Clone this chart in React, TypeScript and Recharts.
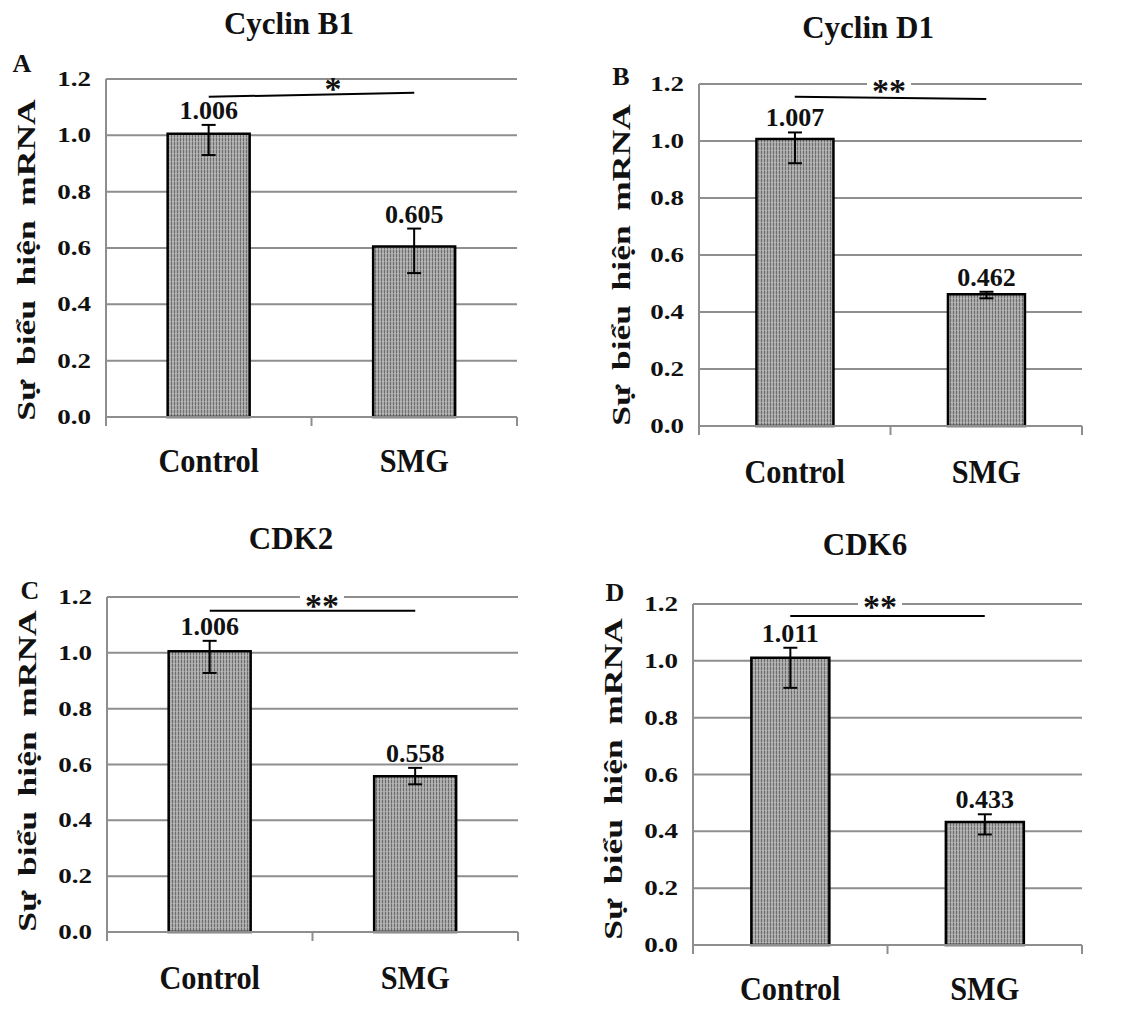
import React from 'react';
import {
  BarChart,
  Bar,
  XAxis,
  YAxis,
  CartesianGrid,
  ErrorBar,
  LabelList,
  ReferenceLine
} from 'recharts';

const categories = ['Control', 'SMG'];
const yTicks = [0, 0.2, 0.4, 0.6, 0.8, 1.0, 1.2];
const yLabel = 'Sự biểu hiện mRNA';

const cyclinB1 = [1.006, 0.605];
const cyclinB1Err = [[0.076, 0.031], [0.094, 0.064]]; // [down, up]
const cyclinD1 = [1.007, 0.462];
const cyclinD1Err = [[0.085, 0.023], [0.014, 0.009]];
const cdk2 = [1.006, 0.558];
const cdk2Err = [[0.078, 0.037], [0.029, 0.030]];
const cdk6 = [1.011, 0.433];
const cdk6Err = [[0.106, 0.035], [0.044, 0.027]];

const sigB1 = [1.137, 1.151];
const sigD1 = [1.155, 1.147];
const sigCdk2 = [1.151, 1.151];
const sigCdk6 = [1.158, 1.158];

const serif = '"Liberation Serif", "Times New Roman", serif';
const gridGray = '#8e8e8e';
const svgText = { fontFamily: serif, fontWeight: 700 };

// plot box (L, R, T = 1.2 line, B = 0 line) and overlay spots for each panel
const panels = [
  { id: 'a', title: 'Cyclin B1', letter: 'A', vals: cyclinB1, errs: cyclinB1Err, sig: sigB1, stars: '*', box: false,
    L: 106, R: 517, T: 79, B: 417, titleXY: [289, 23], letterXY: [22, 64], ylabXY: [26, 260], starXY: [333, 84], catOff: 44 },
  { id: 'b', title: 'Cyclin D1', letter: 'B', vals: cyclinD1, errs: cyclinD1Err, sig: sigD1, stars: '**', box: true,
    L: 699, R: 1082, T: 84, B: 426, titleXY: [868, 27], letterXY: [621, 77], ylabXY: [621, 265], starXY: [889, 86], catOff: 46 },
  { id: 'c', title: 'CDK2', letter: 'C', vals: cdk2, errs: cdk2Err, sig: sigCdk2, stars: '**', box: true,
    L: 107, R: 518, T: 597, B: 932, titleXY: [291, 538], letterXY: [30, 591], ylabXY: [27, 771], starXY: [322, 601], catOff: 46 },
  { id: 'd', title: 'CDK6', letter: 'D', vals: cdk6, errs: cdk6Err, sig: sigCdk6, stars: '**', box: true,
    L: 693, R: 1082, T: 604, B: 945, titleXY: [865, 544], letterXY: [615, 593], ylabXY: [613, 779], starXY: [880, 602], catOff: 44 },
];

const YTick = ({ x, y, payload }: any) => (
  <g transform={`translate(${x},${y})`}>
    <text textAnchor="end" dy={7} transform="scale(1.35,1)" style={svgText} fontSize={20} fill="#111">
      {Number(payload.value).toFixed(1)}
    </text>
  </g>
);

const makeXTick = (band: number, off: number) => ({ x, y, payload, index }: any) => (
  <g>
    <line x1={x - band / 2} x2={x - band / 2} y1={y} y2={y + 9} stroke={gridGray} strokeWidth={2} />
    {index === categories.length - 1 && (
      <line x1={x + band / 2} x2={x + band / 2} y1={y} y2={y + 9} stroke={gridGray} strokeWidth={2} />
    )}
    <g transform={`translate(${x},${y + off + 11})`}>
      <text textAnchor="middle" transform="scale(0.92,1.05)" style={svgText} fontSize={33} fill="#111">
        {payload.value}
      </text>
    </g>
  </g>
);

const makeValueLabel = (vals: number[], errs: number[][]) => (props: any) => {
  const vb = props.viewBox || props;
  const x = vb.x ?? props.x;
  const y = vb.y ?? props.y;
  const width = vb.width ?? props.width;
  const height = vb.height ?? props.height;
  const i = props.index ?? 0;
  const pxPerUnit = height / vals[i];
  const errTop = y - errs[i][1] * pxPerUnit;
  return (
    <text x={x + width / 2} y={errTop - 6} textAnchor="middle" style={svgText} fontSize={26} fill="#111">
      {vals[i].toFixed(3)}
    </text>
  );
};

const Panel = ({ p }: any) => {
  const width = p.R - p.L + 80;
  const height = p.B - p.T + 80;
  const band = (p.R - p.L) / categories.length;
  const data = categories.map((c, i) => ({ name: c, value: p.vals[i], err: p.errs[i] }));
  return (
    <>
      <div style={{ position: 'absolute', left: p.L - 70, top: p.T - 10 }}>
        <BarChart width={width} height={height} data={data} barCategoryGap="30%"
          margin={{ top: 10, right: 10, left: 10, bottom: 10 }}>
          <defs>
            <pattern id={`tex-${p.id}`} width={3} height={4} patternUnits="userSpaceOnUse">
              <rect width={3} height={4} fill="#aaaaaa" />
              <rect width={1} height={4} fill="#6c6c6c" />
              <rect width={3} height={1} fill="#c6c6c6" opacity={0.45} />
            </pattern>
          </defs>
          <CartesianGrid vertical={false} stroke={gridGray} strokeWidth={2} />
          <XAxis dataKey="name" height={60} tickLine={false} tickSize={0} tickMargin={0}
            axisLine={{ stroke: gridGray, strokeWidth: 2 }} tick={makeXTick(band, p.catOff)} interval={0} />
          <YAxis type="number" domain={[0, 1.2]} ticks={yTicks} width={60} tickLine={false} tickSize={0} tickMargin={15}
            axisLine={{ stroke: gridGray, strokeWidth: 2 }} tick={<YTick />} interval={0} />
          <Bar dataKey="value" fill={`url(#tex-${p.id})`} stroke="#000" strokeWidth={2.5} isAnimationActive={false}>
            <ErrorBar dataKey="err" direction="y" width={7} stroke="#000" strokeWidth={2} />
            <LabelList dataKey="value" content={makeValueLabel(p.vals, p.errs)} />
          </Bar>
          <ReferenceLine segment={[{ x: categories[0], y: p.sig[0] }, { x: categories[1], y: p.sig[1] }]}
            stroke="#000" strokeWidth={2} ifOverflow="visible" />
        </BarChart>
      </div>
      <div style={{ position: 'absolute', left: p.titleXY[0], top: p.titleXY[1], transform: 'translate(-50%,-50%)',
        fontFamily: serif, fontWeight: 'bold', fontSize: 31, lineHeight: 1, whiteSpace: 'nowrap', color: '#111' }}>
        {p.title}
      </div>
      <div style={{ position: 'absolute', left: p.letterXY[0], top: p.letterXY[1], transform: 'translate(-50%,-50%)',
        fontFamily: serif, fontWeight: 'bold', fontSize: 26, lineHeight: 1, color: '#111' }}>
        {p.letter}
      </div>
      <div style={{ position: 'absolute', left: p.ylabXY[0], top: p.ylabXY[1],
        transform: 'translate(-50%,-50%) rotate(-90deg) scale(1.42,1)', fontFamily: serif, fontWeight: 'bold',
        fontSize: 25, lineHeight: 1, whiteSpace: 'nowrap', wordSpacing: 4, color: '#111' }}>
        {yLabel}
      </div>
      {p.box && (
        <div style={{ position: 'absolute', left: p.starXY[0] - 22, top: p.T - 5, width: 44, height: 10, background: '#fff' }} />
      )}
      <div style={{ position: 'absolute', left: p.starXY[0], top: p.starXY[1] - 12.5, transform: 'translateX(-50%)',
        fontFamily: serif, fontWeight: 'bold', fontSize: 34, lineHeight: 1, whiteSpace: 'nowrap', color: '#111' }}>
        {p.stars}
      </div>
    </>
  );
};

export default function App() {
  return (
    <div style={{ position: 'absolute', left: 0, top: 0, width: 1145, height: 1009, background: '#fff', overflow: 'hidden' }}>
      {panels.map((p) => (
        <Panel key={p.id} p={p} />
      ))}
    </div>
  );
}
